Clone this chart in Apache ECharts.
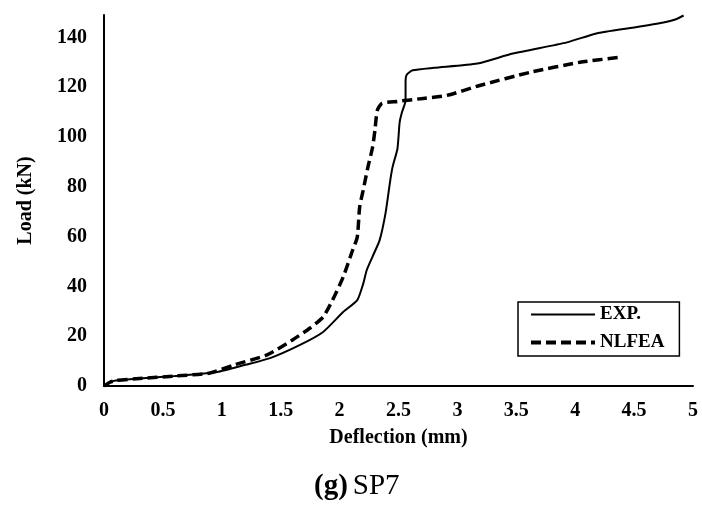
<!DOCTYPE html>
<html>
<head>
<meta charset="utf-8">
<script src="https://cdn.jsdelivr.net/npm/echarts@6/dist/echarts.min.js"></script>
<style>html,body{margin:0;padding:0;background:#fff;}#c{width:702px;height:507px;}</style>
</head>
<body>
<div id="c"></div>
<script>
var expX = [0, 0.05, 0.1, 0.3, 0.6, 0.96, 1.2, 1.41, 1.66, 1.86, 2.03, 2.15, 2.2, 2.23, 2.28, 2.34, 2.39, 2.43, 2.45, 2.49, 2.5, 2.51, 2.53, 2.56, 2.56, 2.57, 2.62, 2.8, 3.17, 3.47, 3.93, 4.18, 4.5, 4.75, 4.85, 4.92];
var expY = [0, 1.5, 2.2, 3.0, 4.0, 5.6, 8.5, 11.2, 16.4, 21.7, 29.7, 34.5, 41, 46.5, 52, 58.6, 69.4, 82.6, 88, 95, 100, 106, 110, 114.7, 122, 125, 126.8, 127.8, 129.5, 133.5, 138, 141.6, 144, 146, 147.2, 148.8];
var nlfeaX = [0, 0.05, 0.1, 0.3, 0.6, 0.9, 1.1, 1.38, 1.6, 1.75, 1.86, 1.94, 2.03, 2.11, 2.15, 2.17, 2.2, 2.24, 2.28, 2.3, 2.32, 2.36, 2.49, 2.71, 2.91, 3.19, 3.62, 4.04, 4.38];
var nlfeaY = [0, 1.5, 2.2, 3.0, 4.0, 5.2, 8.4, 12.4, 18.5, 23.3, 27.7, 34.5, 43.7, 54.5, 59.8, 71.8, 78.6, 87.8, 95.9, 102.7, 110.7, 113.5, 114.3, 115.5, 116.7, 120.7, 126, 130, 132];
var seriesNames = ['EXP.', 'NLFEA'];

function pairs(xs, ys) { return xs.map(function (x, i) { return [x, ys[i]]; }); }

var font = 'Liberation Serif';
var chart = echarts.init(document.getElementById('c'));
chart.setOption({
  animation: false,
  backgroundColor: '#fff',
  title: {
    text: '{b|(g)} {n|SP7}',
    left: 309, top: 467,
    textStyle: {
      rich: {
        b: { fontFamily: font, fontWeight: 'bold', fontSize: 29, color: '#000' },
        n: { fontFamily: font, fontWeight: 'normal', fontSize: 29, color: '#000' }
      }
    }
  },
  grid: { left: 104, right: 9, top: 15, bottom: 121 },
  legend: {
    data: [
      { name: seriesNames[0], lineStyle: { width: 2, type: 'solid' } },
      { name: seriesNames[1], lineStyle: { width: 4, type: [10, 5] } }
    ],
    orient: 'vertical',
    left: 518, top: 302,
    padding: [3, 15, 4, 11],
    itemGap: 9,
    itemWidth: 64, itemHeight: 14,
    itemStyle: { opacity: 0 },
    borderColor: '#000', borderWidth: 1.5,
    textStyle: { fontFamily: font, fontWeight: 'bold', fontSize: 19, color: '#000' }
  },
  xAxis: {
    type: 'value', min: 0, max: 5, interval: 0.5,
    name: 'Deflection (mm)', nameLocation: 'middle', nameGap: 42,
    nameTextStyle: { fontFamily: font, fontWeight: 'bold', fontSize: 20, color: '#000' },
    axisLine: { show: true, lineStyle: { color: '#000', width: 2 } },
    axisTick: { show: false },
    splitLine: { show: false },
    axisLabel: { fontFamily: font, fontWeight: 'bold', fontSize: 20, color: '#000', margin: 15 }
  },
  yAxis: {
    type: 'value', min: 0, max: 149, interval: 20,
    name: 'Load (kN)', nameLocation: 'middle', nameGap: 68,
    nameTextStyle: { fontFamily: font, fontWeight: 'bold', fontSize: 20, color: '#000' },
    axisLine: { show: true, lineStyle: { color: '#000', width: 2 } },
    axisTick: { show: false },
    splitLine: { show: false },
    axisLabel: { fontFamily: font, fontWeight: 'bold', fontSize: 20, color: '#000', margin: 17, showMaxLabel: false }
  },
  series: [
    {
      name: seriesNames[0], type: 'line', showSymbol: false, symbol: 'none', smooth: 0.2,
      data: pairs(expX, expY),
      lineStyle: { color: '#000', width: 2 },
      itemStyle: { color: '#000' }
    },
    {
      name: seriesNames[1], type: 'line', showSymbol: false, symbol: 'none', smooth: 0.2,
      data: pairs(nlfeaX, nlfeaY),
      lineStyle: { color: '#000', width: 3.5, type: [10, 5] },
      itemStyle: { color: '#000' }
    }
  ]
});
</script>
</body>
</html>
